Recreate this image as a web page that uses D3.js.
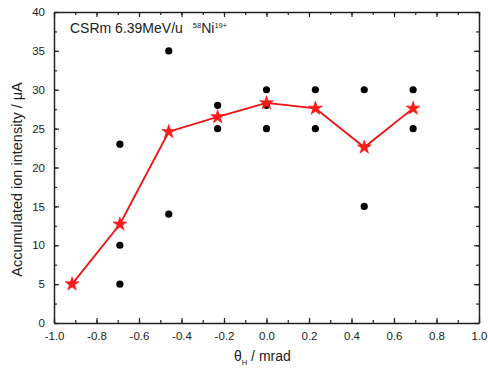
<!DOCTYPE html>
<html>
<head>
<meta charset="utf-8">
<script src="https://cdn.jsdelivr.net/npm/d3@7"></script>
<style>
body { margin: 0; background: #fff; }
text { font-family: Arial, "Liberation Sans", sans-serif; fill: #222; }
</style>
</head>
<body>
<div class="container"></div>
<script>
let width = 488;
let height = 371;

// angle positions (mrad)
const thetaDots = [-0.69, -0.69, -0.69, -0.46, -0.46, -0.23, -0.23, 0, 0, 0, 0.23, 0.23, 0.46, 0.46, 0.69, 0.69];
// measured intensities (uA)
const intensityDots = [5, 10, 23, 14, 35, 25, 28, 25, 28, 30, 25, 30, 15, 30, 25, 30];

// averaged curve
const thetaAvg = [-0.915, -0.69, -0.46, -0.23, 0, 0.23, 0.46, 0.69];
const intensityAvg = [5, 12.7, 24.6, 26.5, 28.3, 27.6, 22.6, 27.6];

const xTicks = [-1.0, -0.8, -0.6, -0.4, -0.2, 0.0, 0.2, 0.4, 0.6, 0.8, 1.0];
const yTicks = [0, 5, 10, 15, 20, 25, 30, 35, 40];

const margin = {left: 54, right: 9, top: 12, bottom: 48};

const svg = d3.select('.container')
    .append('svg')
    .attr('width', width)
    .attr('height', height);

let x = d3.scaleLinear().domain([-1, 1]).range([margin.left, width - margin.right]);
let y = d3.scaleLinear().domain([0, 40]).range([height - margin.bottom, margin.top]);

let minorX = d3.range(-1, 1.001, 0.1);
let minorY = d3.range(0, 40.001, 2.5);

//bottom axis
svg.append('g')
    .attr('transform', 'translate(0,' + y(0) + ')')
    .call(d3.axisBottom(x).tickValues(xTicks).tickFormat(d => d.toFixed(1)).tickSizeInner(-5).tickSizeOuter(0).tickPadding(9))
    .call(g => g.selectAll('.tick text').attr('font-size', 11.5));
svg.append('g')
    .attr('transform', 'translate(0,' + y(0) + ')')
    .call(d3.axisBottom(x).tickValues(minorX).tickFormat('').tickSizeInner(-3).tickSizeOuter(0))
    .call(g => g.select('.domain').remove());

//top axis
svg.append('g')
    .attr('transform', 'translate(0,' + y(40) + ')')
    .call(d3.axisTop(x).tickValues(xTicks).tickFormat('').tickSizeInner(-5).tickSizeOuter(0));
svg.append('g')
    .attr('transform', 'translate(0,' + y(40) + ')')
    .call(d3.axisTop(x).tickValues(minorX).tickFormat('').tickSizeInner(-3).tickSizeOuter(0))
    .call(g => g.select('.domain').remove());

//left axis
svg.append('g')
    .attr('transform', 'translate(' + x(-1) + ',0)')
    .call(d3.axisLeft(y).tickValues(yTicks).tickSizeInner(-5).tickSizeOuter(0).tickPadding(9))
    .call(g => g.selectAll('.tick text').attr('font-size', 11.5));
svg.append('g')
    .attr('transform', 'translate(' + x(-1) + ',0)')
    .call(d3.axisLeft(y).tickValues(minorY).tickFormat('').tickSizeInner(-3).tickSizeOuter(0))
    .call(g => g.select('.domain').remove());

//right axis
svg.append('g')
    .attr('transform', 'translate(' + x(1) + ',0)')
    .call(d3.axisRight(y).tickValues(yTicks).tickFormat('').tickSizeInner(-5).tickSizeOuter(0));
svg.append('g')
    .attr('transform', 'translate(' + x(1) + ',0)')
    .call(d3.axisRight(y).tickValues(minorY).tickFormat('').tickSizeInner(-3).tickSizeOuter(0))
    .call(g => g.select('.domain').remove());

svg.selectAll('.domain').attr('stroke', '#222').attr('stroke-width', 1.5);
svg.selectAll('.tick line').attr('stroke', '#222').attr('stroke-width', 1.2);

//dots
svg.selectAll('circle.dot')
    .data(thetaDots)
    .enter()
    .append('circle')
    .attr('class', 'dot')
    .attr('cx', d => x(d))
    .attr('cy', (d, i) => y(intensityDots[i]))
    .attr('r', 3.6)
    .attr('fill', '#000');

//average line
let avg = thetaAvg.map((d, i) => [d, intensityAvg[i]]);
svg.append('path')
    .datum(avg)
    .attr('fill', 'none')
    .attr('stroke', '#ee1111')
    .attr('stroke-width', 1.8)
    .attr('d', d3.line().x(d => x(d[0])).y(d => y(d[1])));

let star = d3.symbol().type(d3.symbolStar).size(60);
svg.selectAll('path.star')
    .data(avg)
    .enter()
    .append('path')
    .attr('class', 'star')
    .attr('d', star)
    .attr('fill', '#ff1a1a')
    .attr('stroke', '#ee1111')
    .attr('stroke-width', 0.6)
    .attr('transform', d => 'translate(' + x(d[0]) + ',' + y(d[1]) + ')');

//title inside plot
let title = svg.append('text')
    .attr('x', 70)
    .attr('y', 33)
    .attr('font-size', 14);
title.append('tspan').text('CSRm 6.39MeV/u');
title.append('tspan').attr('dx', 10).attr('dy', -5).attr('font-size', 7.5).text('58');
title.append('tspan').attr('dy', 5).text('Ni');
title.append('tspan').attr('dy', -5).attr('font-size', 7.5).text('19+');

//axis labels
let xl = svg.append('text')
    .attr('x', 234)
    .attr('y', 361)
    .attr('font-size', 14);
xl.append('tspan').text('θ');
xl.append('tspan').attr('dy', 4).attr('font-size', 7.5).text('H');
xl.append('tspan').attr('dy', -4).text(' / mrad');

svg.append('text')
    .attr('transform', 'translate(22,' + ((margin.top + height - margin.bottom) / 2 + 12) + ') rotate(-90)')
    .attr('text-anchor', 'middle')
    .attr('font-size', 14.5)
    .text('Accumulated ion intensity / μA');
</script>
</body>
</html>
